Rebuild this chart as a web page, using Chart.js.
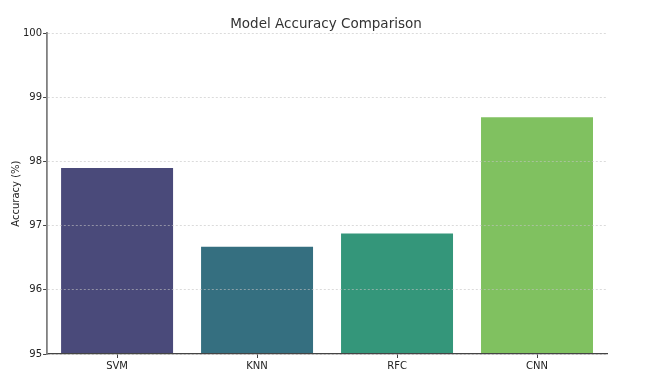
<!DOCTYPE html>
<html lang="en">
<head>
<meta charset="utf-8">
<title>Model Accuracy Comparison</title>
<script src="https://cdn.jsdelivr.net/npm/chart.js@4.4.0/dist/chart.umd.min.js"></script>
<style>
  html, body { margin: 0; padding: 0; background: #fff; }
  #wrap { width: 652px; height: 384px; }
</style>
</head>
<body>
<div id="wrap"><canvas id="chart" width="652" height="384"></canvas></div>
<script>
  // data
  var models = ["SVM", "KNN", "RFC", "CNN"];
  var accuracy = [97.9, 96.67, 96.88, 98.69];
  var barColors = ["#4a4a7a", "#356f80", "#34967a", "#80c160"];
  var yMin = 95, yMax = 100;

  Chart.defaults.font.family = "'DejaVu Sans', sans-serif";
  Chart.defaults.color = "#333";

  var ctx = document.getElementById("chart").getContext("2d");
  new Chart(ctx, {
    type: "bar",
    data: {
      labels: models,
      datasets: [{
        data: accuracy,
        backgroundColor: barColors,
        borderWidth: 0,
        categoryPercentage: 1.0,
        barPercentage: 0.8
      }]
    },
    options: {
      responsive: false,
      animation: false,
      layout: { padding: 0 },
      plugins: {
        legend: { display: false },
        tooltip: { enabled: false },
        title: {
          display: true,
          text: "Model Accuracy Comparison",
          color: "#333",
          font: { size: 13.5, weight: "normal" },
          padding: { top: 16, bottom: 1 }
        }
      },
      scales: {
        x: {
          grid: {
            drawOnChartArea: false,
            offset: false,
            tickLength: 4,
            tickColor: "#444"
          },
          border: { color: "#444", width: 1.2, z: 2 },
          ticks: { color: "#222", font: { size: 10 }, padding: 2 },
          afterFit: function (scale) { scale.height = 30; }
        },
        y: {
          min: yMin,
          max: yMax,
          grid: {
            z: 1,
            color: "rgba(195,195,195,0.6)",
            tickLength: 4,
            tickColor: "#444",
            tickBorderDash: []
          },
          border: { color: "#808080", width: 1.8, dash: [2, 2], z: 2 },
          ticks: { stepSize: 1, color: "#222", font: { size: 10 }, padding: 1 },
          title: {
            display: true,
            text: "Accuracy (%)",
            color: "#222",
            font: { size: 10 },
            padding: { top: 10, bottom: 0 }
          }
        },
        // empty right-hand axis, only keeps the right margin so the title stays centred
        yPad: {
          type: "linear",
          position: "right",
          grid: { display: false },
          border: { display: false },
          ticks: { display: false },
          afterFit: function (scale) { scale.width = 45; }
        }
      }
    }
  });
</script>
</body>
</html>
